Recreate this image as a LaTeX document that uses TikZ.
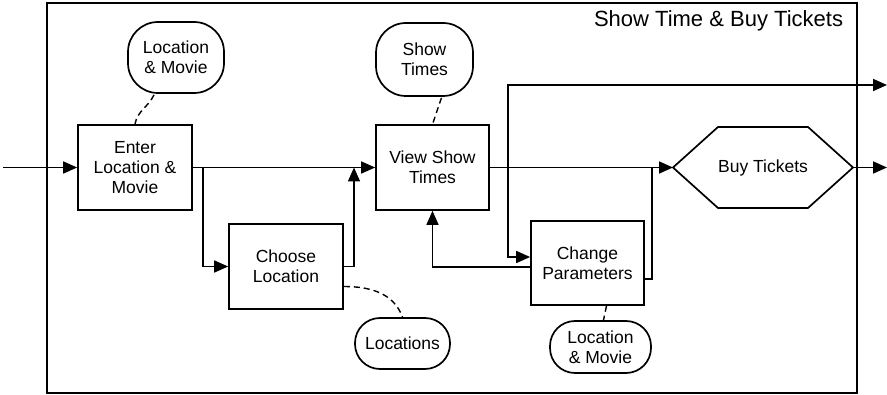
\documentclass[tikz,border=0pt]{standalone}
\usepackage{fontspec}
\setmainfont{Liberation Sans}
\usetikzlibrary{arrows.meta,calc}
\begin{document}
\begin{tikzpicture}[x=1pt,y=-1pt,
  line width=1.7pt,
  lbl/.style={font=\fontsize{17.5}{20}\selectfont, align=center},
  proc/.style={lbl, draw, rectangle, inner sep=0pt},
  bub/.style={lbl, draw, rectangle, rounded corners=30pt, inner sep=0pt},
  arr/.style={-{Triangle[length=14pt,width=12pt]}},
  dsh/.style={dashed, dash pattern=on 6pt off 4pt, line width=1.4pt}]
\useasboundingbox (0,0) rectangle (887,395);
% frame
\draw (47,3) rectangle (857,393);
\node[font=\fontsize{22}{24}\selectfont] (title) at (718.5,21) {Show Time \& Buy Tickets};
% process boxes
\node[proc, minimum width=114pt, minimum height=85pt] (enter) at (135,167.5) {Enter\\Location \&\\Movie};
\node[proc, minimum width=113pt, minimum height=85pt] (view) at (432.5,167.5) {View Show\\Times};
\node[proc, minimum width=114pt, minimum height=85pt] (choose) at (286,266.5) {Choose\\Location};
\node[proc, minimum width=113pt, minimum height=84pt] (change) at (587.5,263) {Change\\Parameters};
% hexagon
\coordinate (buyL) at (673,167.5);
\coordinate (buyR) at (853,167.5);
\draw (buyL) -- (718,127) -- (808,127) -- (buyR) -- (808,208) -- (718,208) -- cycle;
\node[lbl] (buy) at (763,167.5) {Buy Tickets};
% bubbles
\node[bub, minimum width=96pt, minimum height=71pt] (lm1) at (176,57.5) {Location\\\& Movie};
\node[bub, minimum width=97pt, minimum height=73pt] (st) at (424.5,59.5) {Show\\Times};
\node[bub, minimum width=95pt, minimum height=51pt, rounded corners=25pt] (locs) at (402.5,343.5) {Locations};
\node[bub, minimum width=101pt, minimum height=52pt, rounded corners=25pt] (lm2) at (600.5,347) {Location\\\& Movie};
% free ends / junctions
\coordinate (in) at (3,167.5);
\coordinate (out1) at (887,167.5);
\coordinate (out2) at (887,85);
\coordinate (b1) at (203,167.5);
\coordinate (j1) at (354,167.5);
\coordinate (b2) at (508,167.5);
\coordinate (j2) at (652,167.5);
% flows
\draw[arr] (in) -- (enter.west);
\draw[arr] (enter.east) -- (view.west);
\draw[arr] (b1) |- (choose.west);
\draw[arr] (choose.east) -| (j1);
\draw[arr] (view.east) -- (buyL);
\draw[arr] (buyR) -- (out1);
\draw[arr] (b2) |- (out2);
\draw[arr] (b2) |- ($(change.west)+(0,-6)$);
\draw[arr] ($(change.west)+(0,4)$) -| (view.south);
\draw ($(change.east)+(0,16)$) -| (j2);
% dashed links
\draw[dsh] ($(lm1.south)+(-22,1)$) to[out=-115,in=80] (enter.north);
\draw[dsh] ($(st.south)+(17,1)$) to[out=-110,in=70] (view.north);
\draw[dsh] ($(choose.east)+(0,20)$) to[out=0,in=110] (locs.north);
\draw[dsh] ($(change.south)+(19,0)$) -- ($(lm2.north)+(3,0)$);
\end{tikzpicture}
\end{document}
